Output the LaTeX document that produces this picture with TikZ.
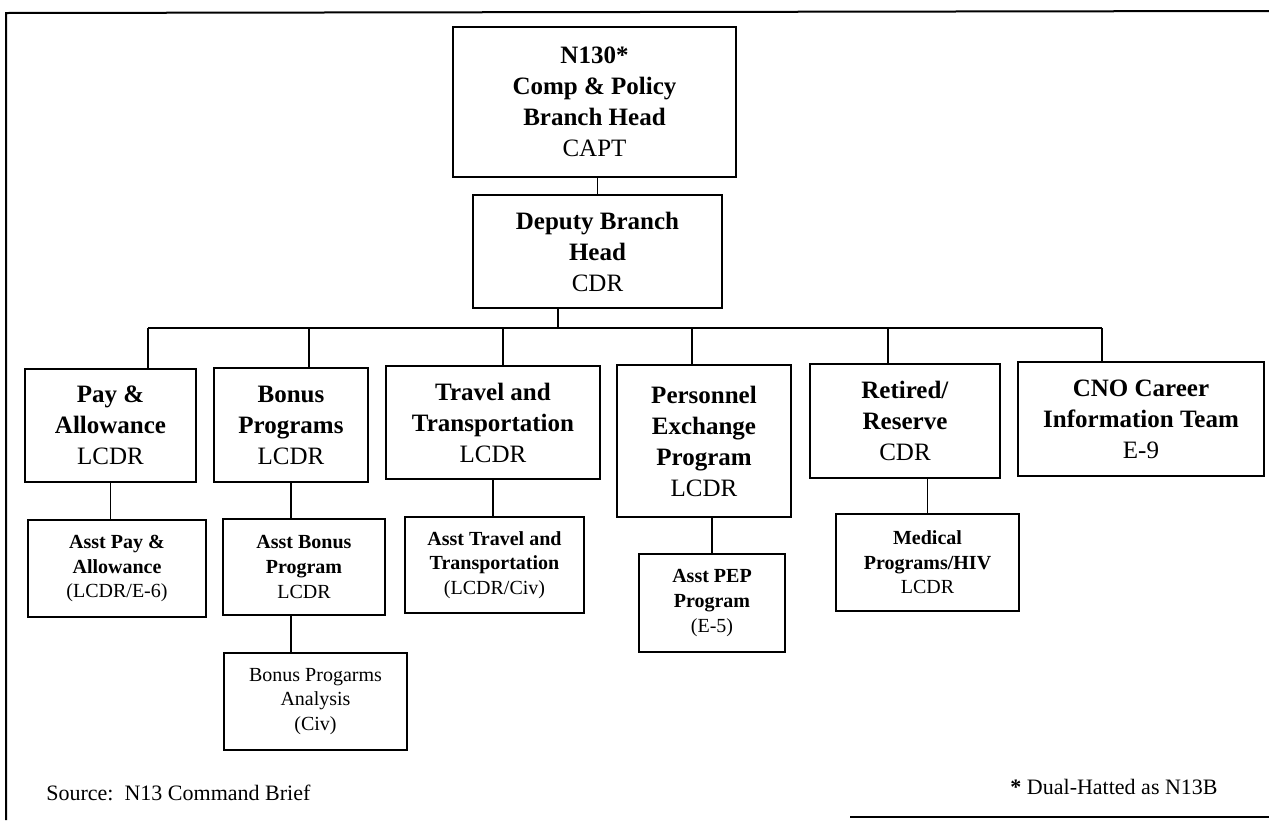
\documentclass[tikz,border=0pt]{standalone}
\usepackage{fontspec}
\setmainfont{Liberation Serif}
\begin{document}
\begin{tikzpicture}[x=0.5pt,y=-0.5pt,
  box/.style={draw,line width=1.1pt,inner sep=0pt,align=center,anchor=center},
  big/.style={box,font=\fontsize{12.5}{15.5}\selectfont},
  small/.style={box,font=\fontsize{10}{12.3}\selectfont},
  conn/.style={line width=0.7pt},
  frame/.style={line width=1pt}]
\useasboundingbox (0,0) rectangle (1269,820);
% frame
\draw[frame] (1269,11) -- (6,13) -- (6,820);
\draw[frame] (850,817) -- (1269,817);
% level 0/1
\node[big,minimum width=141.5pt,minimum height=75pt] (top) at (594.5,102)
  {\textbf{N130*}\\\textbf{Comp \& Policy}\\\textbf{Branch Head}\\CAPT};
\node[big,minimum width=124.5pt,minimum height=56.5pt] (dep) at (597.5,251.5)
  {\textbf{Deputy Branch}\\\textbf{Head}\\CDR};
% level 2
\node[big,minimum width=85.5pt,minimum height=56.5pt] (pay) at (110.5,425.5)
  {\textbf{Pay \&}\\\textbf{Allowance}\\LCDR};
\node[big,minimum width=77pt,minimum height=57pt] (bonus) at (291,425)
  {\textbf{Bonus}\\\textbf{Programs}\\LCDR};
\node[big,minimum width=107pt,minimum height=56.5pt] (travel) at (493,422.5)
  {\textbf{Travel and}\\\textbf{Transportation}\\LCDR};
\node[big,minimum width=87pt,minimum height=76pt] (pers) at (704,441)
  {\textbf{Personnel}\\\textbf{Exchange}\\\textbf{Program}\\LCDR};
\node[big,minimum width=95pt,minimum height=57pt] (ret) at (905,421)
  {\textbf{Retired/}\\\textbf{Reserve}\\CDR};
\node[big,minimum width=123pt,minimum height=57pt] (cno) at (1141,419)
  {\textbf{CNO Career}\\\textbf{Information Team}\\E-9};
% level 3
\node[small,minimum width=89pt,minimum height=48.5pt] (apay) at (117,568.5)
  {\textbf{Asst Pay \&}\\\textbf{Allowance}\\(LCDR/E-6)};
\node[small,minimum width=81pt,minimum height=48pt] (abon) at (304,567)
  {\textbf{Asst Bonus}\\\textbf{Program}\\LCDR};
\node[small,minimum width=91.5pt,minimum height=48.5pt] (bpa) at (315.5,701.5)
  {Bonus Progarms\\Analysis\\(Civ)};
\node[small,minimum width=89.5pt,minimum height=48pt] (atrav) at (494.5,565)
  {\textbf{Asst Travel and}\\\textbf{Transportation}\\(LCDR/Civ)};
\node[small,minimum width=73pt,minimum height=49pt] (apep) at (712,603)
  {\textbf{Asst PEP}\\\textbf{Program}\\(E-5)};
\node[small,minimum width=91.5pt,minimum height=48.5pt] (med) at (927.5,562.5)
  {\textbf{Medical}\\\textbf{Programs/HIV}\\LCDR};
% connectors
\coordinate (bus) at (558,328);
\coordinate (d1) at (148,328);
\coordinate (d2) at (309,328);
\coordinate (d3) at (503,328);
\coordinate (d4) at (692,328);
\coordinate (d5) at (888,328);
\coordinate (d6) at (1102,328);
\draw[conn] (top.south -| dep.north) -- (dep.north);
\draw[conn] (dep.south -| bus) -- (bus);
\draw[conn] (d1) -- (d6);
\draw[conn] (d1) -- (d1 |- pay.north);
\draw[conn] (d2) -- (d2 |- bonus.north);
\draw[conn] (d3) -- (d3 |- travel.north);
\draw[conn] (d4) -- (d4 |- pers.north);
\draw[conn] (d5) -- (d5 |- ret.north);
\draw[conn] (d6) -- (d6 |- cno.north);
\draw[conn] (pay.south) -- (pay.south |- apay.north);
\draw[conn] (bonus.south) -- (bonus.south |- abon.north);
\draw[conn] (bonus.south |- abon.south) -- (bonus.south |- bpa.north);
\draw[conn] (travel.south) -- (travel.south |- atrav.north);
\draw[conn] (apep.north) -- (apep.north |- pers.south);
\draw[conn] (med.north) -- (med.north |- ret.south);
% notes
\node[font=\fontsize{11}{13}\selectfont,anchor=west,inner sep=0pt] (src) at (46,793) {Source:\ \ N13 Command Brief};
\node[font=\fontsize{11}{13}\selectfont,anchor=east,inner sep=0pt] (fn) at (1218,787) {\textbf{*} Dual-Hatted as N13B};
\end{tikzpicture}
\end{document}
